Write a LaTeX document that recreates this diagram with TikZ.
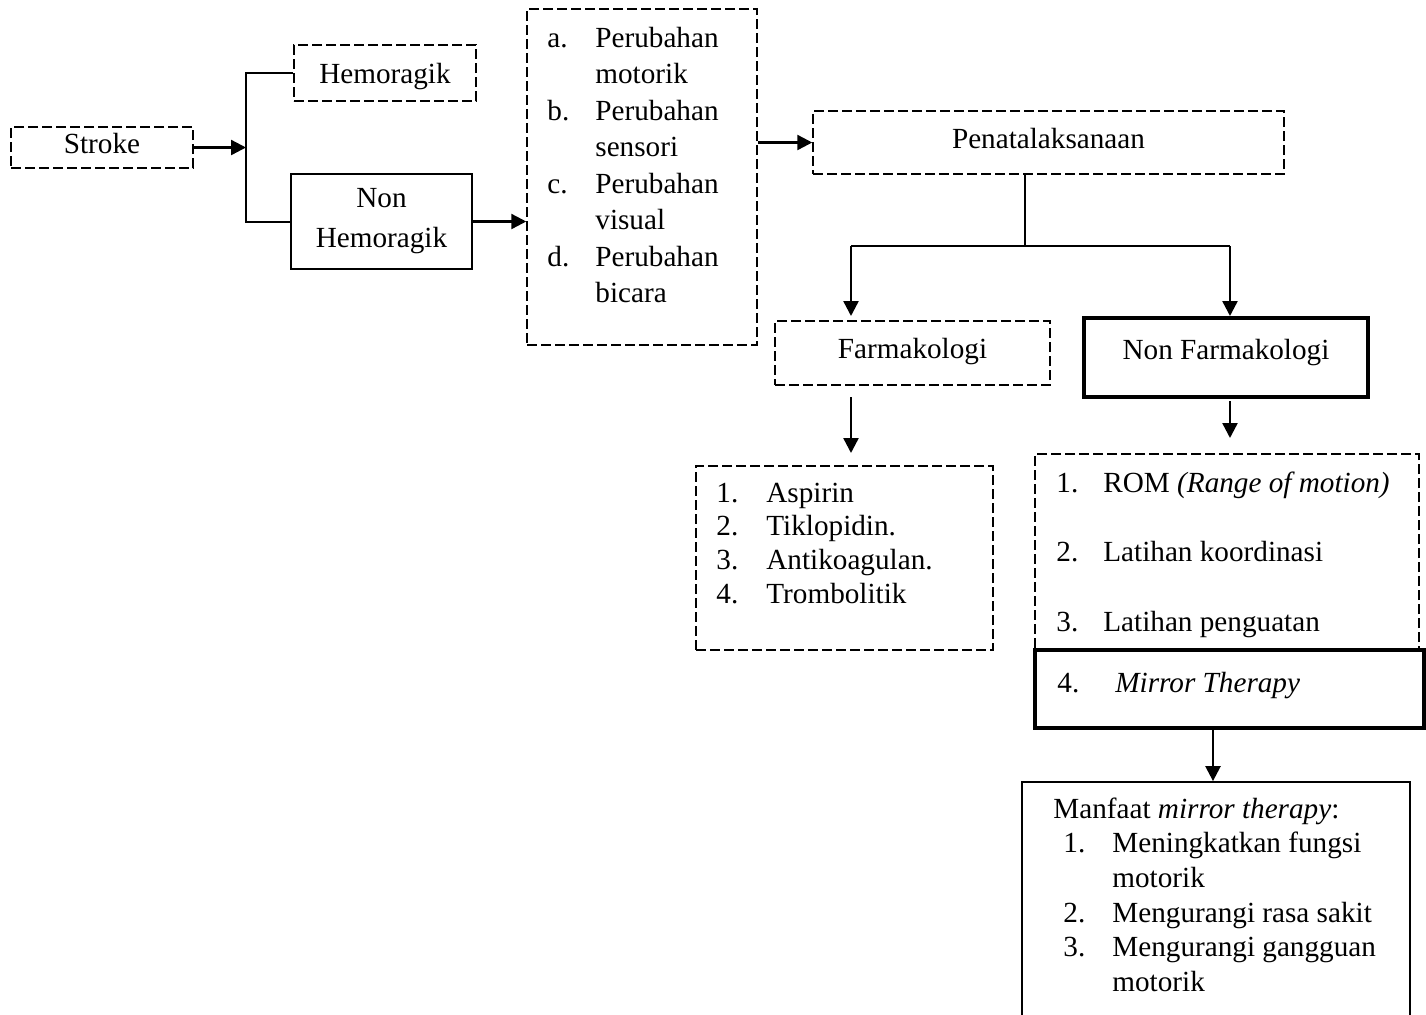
\documentclass[tikz,border=0pt]{standalone}
\usepackage{fontspec}
\setmainfont{Liberation Serif}
\usetikzlibrary{arrows.meta}
\begin{document}
\begin{tikzpicture}[x=0.5pt,y=-0.5pt,
  every node/.style={font=\fontsize{14.6pt}{17pt}\selectfont, inner sep=0pt},
  dbox/.style={draw, line width=0.75pt, dash pattern=on 5pt off 2pt},
  sbox/.style={draw, line width=0.8pt},
  tbox/.style={draw, line width=2pt},
  line/.style={line width=1pt},
  arr/.style={line width=1.2pt, -{Triangle[length=7.5pt,width=7.5pt]}},
  listtext/.style={anchor=base west, align=left}]
\useasboundingbox (0,0) rectangle (1426,1014);
\clip (0,0) rectangle (1426,1014);

% boxes
\node[dbox, minimum width=91pt, minimum height=20.5pt, text height=10pt, text depth=4.5pt] (stroke) at (102,147.5) {Stroke};
\node[dbox, minimum width=91pt, minimum height=28pt, text height=12pt, text depth=2pt] (hemo) at (385,73) {Hemoragik};
\node[sbox, minimum width=90.5pt, minimum height=47.5pt, align=center,
      font=\fontsize{14.6pt}{20pt}\selectfont] (nonhem) at (381.5,221.5) {Non\\Hemoragik};
\node[dbox, minimum width=115pt, minimum height=168pt] (abox) at (642,177) {};
\node[dbox, minimum width=235.5pt, minimum height=31.5pt, text height=10pt, text depth=4.5pt] (pena) at (1048.5,142.5) {Penatalaksanaan};
\node[dbox, minimum width=137.5pt, minimum height=32pt, text height=10pt, text depth=5pt] (farm) at (912.5,353) {Farmakologi};
\node[tbox, minimum width=142pt, minimum height=39.5pt, text height=10pt, text depth=8.5pt] (nonfarm) at (1226,357.5) {Non Farmakologi};
\node[dbox, minimum width=148.5pt, minimum height=92pt] (flist) at (844.5,558) {};
\node[dbox, minimum width=192pt, minimum height=98pt] (rom) at (1227,552) {};
\node[tbox, minimum width=194.5pt, minimum height=39pt] (mirror) at (1229.5,689) {};
\node[sbox, line width=0.9pt, minimum width=194pt, minimum height=129pt] (manfaat) at (1216,911) {};

% texts
\node[listtext, font=\fontsize{14.6pt}{18.25pt}\selectfont] (atext) at (547,47) {%
\begin{tabular}[t]{@{}p{24pt}@{}l@{}}
a. & Perubahan\\ & motorik\\
b. & Perubahan\\ & sensori\\
c. & Perubahan\\ & visual\\
d. & Perubahan\\ & bicara
\end{tabular}};
\node[listtext, font=\fontsize{14.6pt}{16.85pt}\selectfont] (ftext) at (716,502) {%
\begin{tabular}[t]{@{}p{25pt}@{}l@{}}
1. & Aspirin\\
2. & Tiklopidin.\\
3. & Antikoagulan.\\
4. & Trombolitik
\end{tabular}};
\node[listtext, font=\fontsize{14.6pt}{17.4pt}\selectfont] (romtext) at (1056,492) {%
\begin{tabular}[t]{@{}p{23.5pt}@{}l@{}}
1. & ROM \textit{(Range of motion)}\\ & \\
2. & Latihan koordinasi\\ & \\
3. & Latihan penguatan
\end{tabular}};
\node[listtext] (mirrortext) at (1057,692) {%
\begin{tabular}[t]{@{}p{29pt}@{}l@{}}
4. & \textit{Mirror Therapy}
\end{tabular}};
\node[listtext, font=\fontsize{14.6pt}{17.35pt}\selectfont] (mantext) at (1053,818) {%
\begin{tabular}[t]{@{}p{5pt}@{}p{24.5pt}@{}l@{}}
\multicolumn{3}{@{}l@{}}{Manfaat \textit{mirror therapy}:}\\
 & 1. & Meningkatkan fungsi\\
 & & motorik\\
 & 2. & Mengurangi rasa sakit\\
 & 3. & Mengurangi gangguan\\
 & & motorik
\end{tabular}};

% connectors
\coordinate (bar) at (246,147.5);
\draw[arr] (stroke.east) -- (bar);
\draw[line] (hemo.west) -| (nonhem.west -| bar) -- (nonhem.west);
\draw[arr] (nonhem.east) -- (nonhem.east -| abox.west);
\draw[arr] (abox.east |- pena.west) -- (pena.west);

\coordinate (split) at (1025,246);
\coordinate (fl) at (851,246);
\coordinate (fr) at (1230,246);
\draw[line, line width=0.8pt] (pena.south -| split) -- (split);
\draw[line] (fl) -- (fr);
\draw[arr] (fl) -- (fl |- nonfarm.north);
\draw[arr] (fr) -- (fr |- nonfarm.north);

\coordinate (fa1) at (851,397);
\coordinate (fa2) at (851,453);
\draw[arr] (fa1) -- (fa2);
\coordinate (na1) at (1230,401);
\coordinate (na2) at (1230,438);
\draw[arr] (na1) -- (na2);

\coordinate (mx) at (1213,0);
\draw[arr] (mirror.south -| mx) -- (manfaat.north -| mx);
\end{tikzpicture}
\end{document}
